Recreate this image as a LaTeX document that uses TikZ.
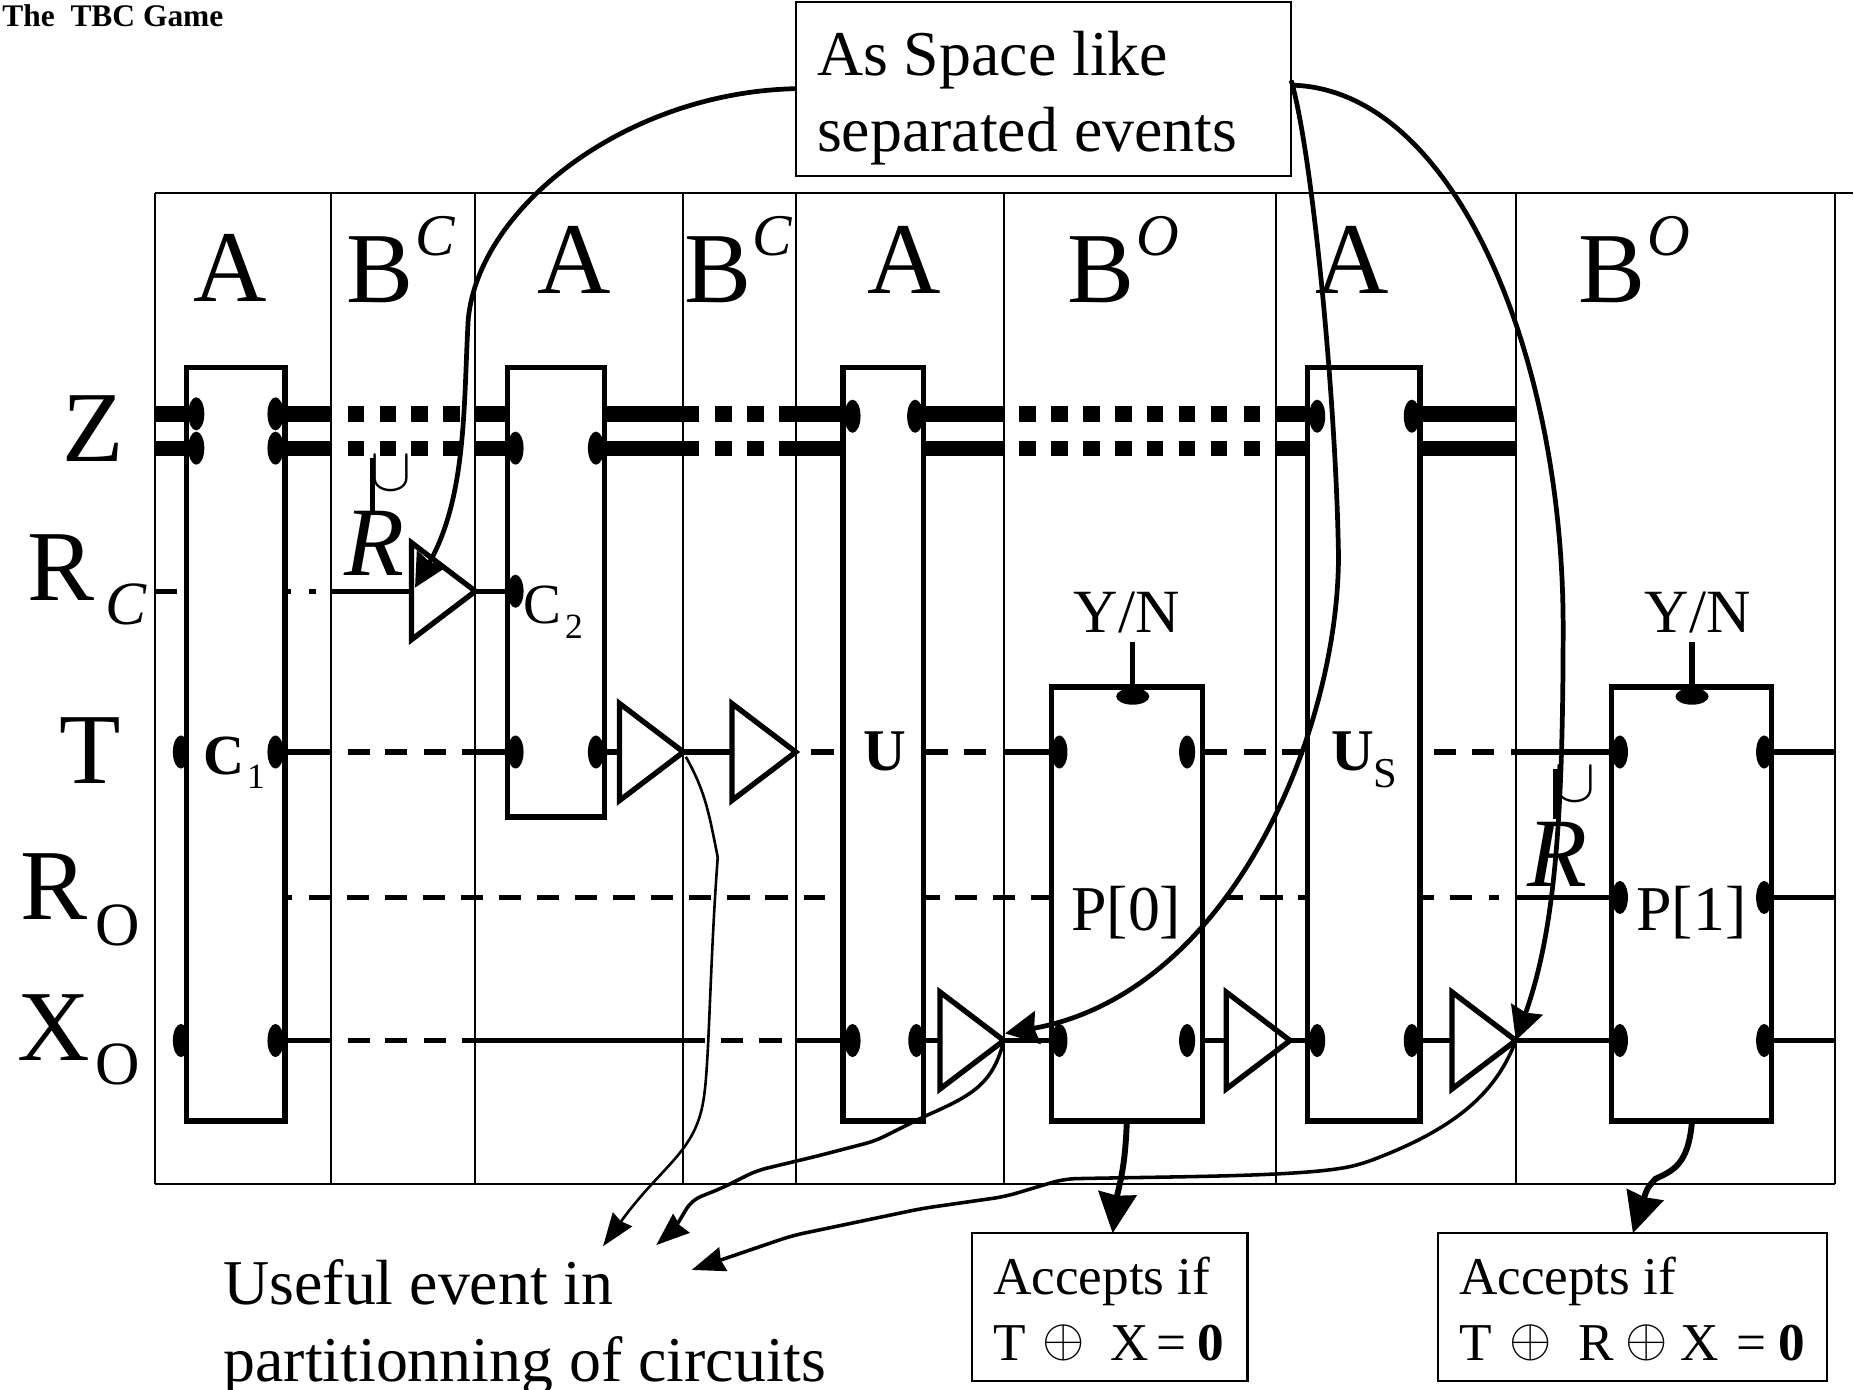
\documentclass[tikz,border=0pt]{standalone}
\usepackage{graphicx}
\usepackage{fontspec}
\setmainfont{Liberation Serif}
\usetikzlibrary{arrows.meta}
\newcommand{\fsz}[1]{\fontsize{#1}{#1}\selectfont}
\newcommand{\bigoplusmark}{\raisebox{4pt}{\scalebox{1.85}{$\oplus$}}}
\newcommand{\bigcupmark}{\scalebox{5.2}{$\cup$}}
\tikzset{
  frameline/.style={line width=1.7pt,black},
  blockbox/.style={draw=black,line width=4.5pt,inner sep=0pt,outer sep=0pt,minimum width=#1},
  bigwire/.style={line width=13.5pt,line cap=butt},
  wire/.style={line width=4.5pt,line cap=butt},
  lbl/.style={inner sep=0pt,outer sep=0pt,anchor=base west},
  lblc/.style={inner sep=0pt,outer sep=0pt,anchor=base},
  tri/.style={line width=4.5pt,miter limit=10},
  sparrow/.style={line width=4pt,-{Stealth[length=28pt,width=28pt,inset=3pt]}},
  thinarrow/.style={line width=2.2pt,-{Stealth[length=28pt,width=20pt,inset=2pt]}},
  midarrow/.style={line width=3pt,-{Stealth[length=28pt,width=21pt,inset=2pt]}},
  fatarrow/.style={line width=5pt,-{Stealth[length=34pt,width=32pt,inset=2pt]}},
  textbox/.style={draw=black,line width=1.8pt,inner sep=0pt,outer sep=0pt}
}
\newcommand{\pin}[2]{\fill (#1,#2) ellipse [x radius=6.8pt,y radius=14pt];}
\newcommand{\pintop}[2]{\fill (#1,#2) ellipse [x radius=14pt,y radius=7pt];}
\newcommand{\trig}[3]{\coordinate (#1) at (#2,#3);
  \draw[tri] (#2-54,#3-41) -- (#2,#3) -- (#2-54,#3+41) -- cycle;}
\begin{document}
\begin{tikzpicture}[x=1pt,y=-1pt]
\useasboundingbox (0,0) rectangle (1568,1175);
% frame
\draw[frameline] (131,163) -- (1567,163);
\draw[frameline] (131,1001) -- (1552,1001);
\foreach \x in {131,280,402,578,673,849,1079,1282,1552}
  \draw[frameline] (\x,163) -- (\x,1001);
% blocks
\node[blockbox=83pt,minimum height=637pt] (c1) at (199.5,629.5) {};
\node[blockbox=82pt,minimum height=380pt] (c2) at (470,501) {};
\node[blockbox=68pt,minimum height=637pt] (u) at (747,629.5) {};
\node[blockbox=128pt,minimum height=367pt] (p0) at (953,764.5) {};
\node[blockbox=95pt,minimum height=637pt] (us) at (1153.5,629.5) {};
\node[blockbox=135pt,minimum height=367pt] (p1) at (1430.5,764.5) {};
% Z wires
\foreach \y in {350.2,379.3}{
  \draw[bigwire] (131,\y) -- (158,\y);
  \draw[bigwire] (241,\y) -- (280,\y);
  \foreach \a in {294,321,348,375}
    \draw[bigwire] (\a,\y) -- ++(14,0);
  \draw[bigwire] (402,\y) -- (429,\y);
  \draw[bigwire] (511,\y) -- (591,\y);
  \draw[bigwire] (605,\y) -- (619,\y);
  \draw[bigwire] (632,\y) -- (646,\y);
  \draw[bigwire] (659,\y) -- (713,\y);
  \draw[bigwire] (781,\y) -- (848,\y);
  \foreach \a in {862,889,916,943,970,997,1024,1052}
    \draw[bigwire] (\a,\y) -- ++(14,0);
  \draw[bigwire] (1079,\y) -- (1106,\y);
  \draw[bigwire] (1201,\y) -- (1282,\y);
}
% R_C wire
\draw[wire] (132,500) -- (150,500);
\draw[wire] (241,500) -- (246,500);
\draw[wire] (261,500) -- (267,500);
\draw[wire] (280,500) -- (348,500);
\draw[wire] (402,500) -- (429,500);
% T wire
\draw[wire] (150,636) -- (158,636);
\draw[wire] (241,636) -- (280,636);
\foreach \a in {294,326,358.6} \draw[wire] (\a,636) -- ++(18.5,0);
\draw[wire] (391,636) -- (429,636);
\draw[wire] (511,636) -- (524,636);
\draw[wire] (578,636) -- (618,636);
\foreach \a in {686} \draw[wire] (\a,636) -- ++(19,0);
\foreach \a in {783,815} \draw[wire] (\a,636) -- ++(19,0);
\draw[wire] (849,636) -- (889,636);
\foreach \a in {1019,1052,1084} \draw[wire] (\a,636) -- ++(18.5,0);
\foreach \a in {1213,1245} \draw[wire] (\a,636) -- ++(18.5,0);
\draw[wire] (1278,636) -- (1363,636);
\draw[wire] (1498,636) -- (1552,636);
% R_O wire
\draw[wire] (241,759) -- (247,759);
\draw[wire,dash pattern=on 18.7pt off 13.5pt] (261,759) -- (698,759);
\draw[wire] (781,759) -- (795,759);
\foreach \a in {808,840,872} \draw[wire] (\a,759) -- ++(18,0);
\draw[wire] (1036,759) -- (1051,759);
\draw[wire] (1066,759) -- (1085,759);
\draw[wire] (1098,759) -- (1106,759);
\draw[wire] (1201,759) -- (1213,759);
\draw[wire] (1226,759) -- (1245,759);
\draw[wire] (1259,759) -- (1268,759);
\draw[wire] (1283,759) -- (1363,759);
\draw[wire] (1498,759) -- (1552,759);
% X_O wire
\draw[wire] (146,880) -- (158,880);
\draw[wire] (241,880) -- (280,880);
\foreach \a in {294,326,358.6} \draw[wire] (\a,880) -- ++(18.5,0);
\draw[wire] (391,880) -- (596,880);
\draw[wire] (610,880) -- (628,880);
\draw[wire] (642,880) -- (661,880);
\draw[wire] (673,880) -- (713,880);
\draw[wire] (781,880) -- (795,880);
\draw[wire] (849,880) -- (889,880);
\draw[wire] (1017,880) -- (1038,880);
\draw[wire] (1091,880) -- (1106,880);
\draw[wire] (1201,880) -- (1228,880);
\draw[wire] (1282,880) -- (1363,880);
\draw[wire] (1498,880) -- (1552,880);
% buffers
\trig{trr}{402}{500}
\trig{tta}{578}{636}
\trig{ttb}{673}{636}
\trig{txa}{849}{880}
\trig{txb}{1091}{880}
\trig{txc}{1282}{880}
% pins
\pin{166}{350}\pin{166}{379}\pin{233}{350}\pin{233}{379}
\pin{153}{636}\pin{233}{636}\pin{153}{880}\pin{233}{880}
\pin{436}{379}\pin{504}{379}\pin{436}{500}\pin{436}{636}\pin{504}{636}
\pin{721}{352}\pin{774}{352}\pin{721}{880}\pin{775}{880}
\pin{896}{636}\pin{1004}{636}\pin{896}{880}\pin{1004}{880}
\pin{1114}{352}\pin{1194}{352}\pin{1114}{880}\pin{1194}{880}
\pin{1370}{636}\pin{1492}{636}\pin{1370}{759}\pin{1492}{759}\pin{1370}{880}\pin{1492}{880}
\pintop{958}{589}\pintop{1431}{589}
\draw[line width=4.5pt] (958,543) -- (958,581);
\draw[line width=4.5pt] (1431,543) -- (1431,581);
% header
\node[lbl,font=\fsz{26.6}\bfseries] (title) at (2,22) {The\ \ TBC Game};
% column heads
\node[lblc,font=\fsz{86}] (ha1) at (195,255) {A};
\node[lbl,font=\fsz{85}] (hb1) at (293,256) {B};
\node[lbl,font=\fsz{50}\itshape] (hc1) at (351,216) {C};
\node[lblc,font=\fsz{86}] (ha2) at (486,248) {A};
\node[lbl,font=\fsz{85}] (hb2) at (579,256) {B};
\node[lbl,font=\fsz{50}\itshape] (hc2) at (636,216) {C};
\node[lblc,font=\fsz{86}] (ha3) at (765,248) {A};
\node[lbl,font=\fsz{85}] (hb3) at (903,256) {B};
\node[lbl,font=\fsz{50}\itshape] (ho3) at (961,216) {O};
\node[lblc,font=\fsz{86}] (ha4) at (1144,248) {A};
\node[lbl,font=\fsz{85}] (hb4) at (1335,256) {B};
\node[lbl,font=\fsz{50}\itshape] (ho4) at (1393,216) {O};
% wire labels
\node[lbl,font=\fsz{85}] (lz) at (53,390) {Z};
\node[lbl,font=\fsz{85}] (lr) at (23,508) {R};
\node[lbl,font=\fsz{52}\itshape] (lrc) at (89,528) {C};
\node[lbl,font=\fsz{85}] (lt) at (50,663) {T};
\node[lbl,font=\fsz{85}] (lro) at (17,778) {R};
\node[lbl,font=\fsz{52}] (lroo) at (81,800) {O};
\node[lbl,font=\fsz{85}] (lx) at (15,897) {X};
\node[lbl,font=\fsz{52}] (lxo) at (81,917) {O};
% block labels
\node[lbl,font=\fsz{48}\bfseries] (tc1) at (172,655) {C};
\node[lbl,font=\fsz{30}] (tc1s) at (209,667) {1};
\node[lbl,font=\fsz{48}] (tc2) at (443,527) {C};
\node[lbl,font=\fsz{30}] (tc2s) at (478,540) {2};
\node[lbl,font=\fsz{50}\bfseries] (tu) at (730,652) {U};
\node[lbl,font=\fsz{50}\bfseries] (tus) at (1126,652) {U};
\node[lbl,font=\fsz{36}] (tuss) at (1162,666) {S};
\node[lbl,font=\fsz{54}] (tp0) at (906,787) {P[0]};
\node[lbl,font=\fsz{54}] (tp1) at (1384,787) {P[1]};
\node[lbl,font=\fsz{52}] (yn0) at (908,535) {Y/N};
\node[lbl,font=\fsz{52}] (yn1) at (1391,535) {Y/N};
% breve R
\node[lblc] (cup1) at (331,415) {\bigcupmark};
\draw[line width=5pt] (315,387) -- (315,434);
\node[lbl,font=\fsz{83}\itshape] (ri1) at (291,487) {R};
\node[lblc] (cup2) at (1332,678) {\bigcupmark};
\draw[line width=5pt] (1316,650) -- (1316,693);
\node[lbl,font=\fsz{83}\itshape] (ri2) at (1292,750) {R};
% text boxes
\node[textbox,minimum width=419pt,minimum height=147pt] (note) at (882.5,75.5) {};
\node[lbl,font=\fsz{54}] (n1) at (691,64) {As Space like};
\node[lbl,font=\fsz{54}] (n2) at (691,128) {separated events};
\node[lbl,font=\fsz{54}] (us1) at (189,1103) {Useful event in};
\node[lbl,font=\fsz{54}] (us2) at (189,1168) {partitionning of circuits};
\coordinate (usefula) at (510,1054);
\coordinate (usefulb) at (555,1053);
\coordinate (usefulc) at (585,1074);
\node[textbox,minimum width=233pt,minimum height=125pt] (acc0) at (938.5,1105.5) {};
\node[lbl,font=\fsz{45}] (a0a) at (840,1095) {Accepts if};
\node[lbl,font=\fsz{45}] (a0b) at (840,1151) {T\hspace{14.5pt}\bigoplusmark\hspace{21pt}X\hspace{6.5pt}=\hspace{10pt}\textbf{0}};
\node[textbox,minimum width=329pt,minimum height=125pt] (acc1) at (1380.5,1105.5) {};
\node[lbl,font=\fsz{45}] (a1a) at (1234,1095) {Accepts if};
\node[lbl,font=\fsz{45}] (a1b) at (1234,1151) {T\hspace{15.5pt}\bigoplusmark\hspace{22.5pt}R\hspace{9.5pt}\bigoplusmark\hspace{10.5pt}X\hspace{15pt}=\hspace{10pt}\textbf{0}};
% space-like arrows
\coordinate (notel) at (673,75);
\coordinate (notera) at (1092,68);
\coordinate (noterb) at (1092,72);
\draw[sparrow] (notel) .. controls (530,78) and (405,175) .. (396,270)
   .. controls (392,340) and (395,420) .. (351,497);
\draw[sparrow] (notera) .. controls (1110,130) and (1130,340) .. (1132,470)
   .. controls (1132,620) and (1040,840) .. (850,874);
\draw[sparrow] (noterb) .. controls (1230,75) and (1322,300) .. (1322,530)
   .. controls (1322,700) and (1314,790) .. (txc);
% useful event arrows
\draw[thinarrow] (580,640) .. controls (597,670) and (600,690) .. (607,725)
   .. controls (600,820) and (600,900) .. (595,930)
   .. controls (588,975) and (560,985) .. (usefula);
\draw[midarrow,rounded corners=8pt] (txa) .. controls (840,915) and (825,925) .. (780,945)
   -- (740,965) -- (690,978) -- (640,990) -- (610,1005) -- (585,1015) -- (570,1040) -- (usefulb);
\draw[midarrow,rounded corners=10pt] (txc) .. controls (1265,925) and (1230,955) .. (1150,985)
   .. controls (1100,995) and (1000,995) .. (900,997)
   -- (850,1012) -- (780,1022) -- (670,1045) -- (usefulc);
% accept arrows
\draw[fatarrow] (953,948) .. controls (952,975) and (950,990) .. (945,1010) -- (941,1043);
\draw[fatarrow] (1431,948) .. controls (1428,985) and (1415,990) .. (1400,997)
   .. controls (1393,1005) .. (1381,1043);
\end{tikzpicture}
\end{document}
